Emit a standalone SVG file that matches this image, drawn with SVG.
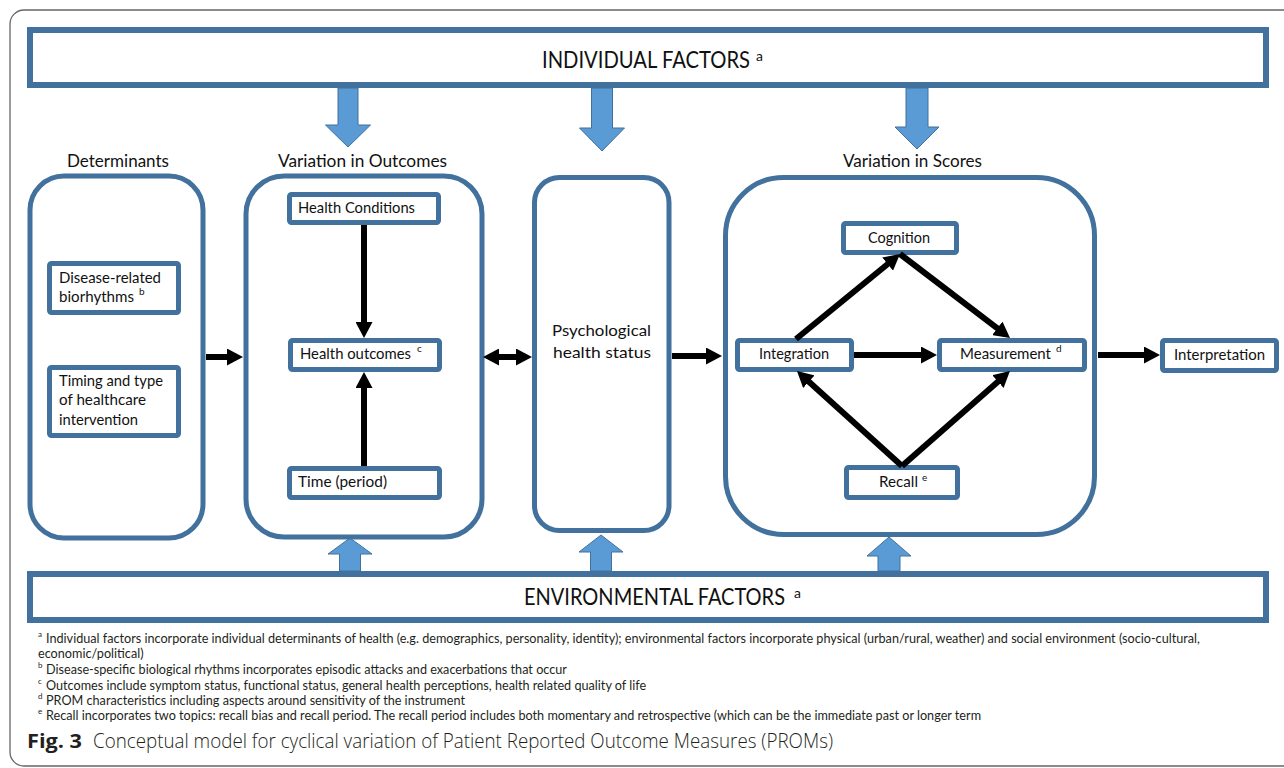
<svg xmlns="http://www.w3.org/2000/svg" width="1284" height="768" viewBox="0 0 1284 768">
<style>
.frame{fill:none;stroke:#666;stroke-width:1.3}
.ban{fill:#fff;stroke:#41719C;stroke-width:6}
.big{fill:#fff;stroke:#41719C;stroke-width:5}
.bx{fill:#fff;stroke:#41719C;stroke-width:5}
.blu{fill:#5B9BD5;stroke:#41719C;stroke-width:1}
.con{fill:none;stroke:#000;stroke-width:6}
text{font-family:Lato,"Liberation Sans",sans-serif;fill:#111}
.lbl{font-size:16px}
.hdr{font-size:18px}
.bt{font-size:24px}
.sup{font-size:10px}
.bsup{font-size:14px}
.fn{font-size:12.65px;fill:#231F20}
.fsup{font-size:8px;fill:#231F20}
.cap{font-family:"Open Sans","Liberation Sans",sans-serif;font-size:20px;font-weight:300;fill:#231F20}
.capb{font-family:"Open Sans","Liberation Sans",sans-serif;font-size:20px;font-weight:700;fill:#231F20}
</style>
<defs>
<marker id="ah" viewBox="0 0 16 17" markerWidth="16" markerHeight="17" refX="1" refY="8.5" orient="auto-start-reverse" markerUnits="userSpaceOnUse">
<path d="M0,0 L16,8.5 L0,17 z" fill="#000"/>
</marker>
</defs>
<rect class="frame" x="10" y="10" width="1300" height="756" rx="14"/>

<g id="individual-factors">
<rect class="ban" x="30" y="30" width="1236" height="55"/>
<text class="bt" x="542" y="68" textLength="208" lengthAdjust="spacingAndGlyphs">INDIVIDUAL FACTORS</text>
<text class="bsup" x="756" y="61">a</text>
</g>
<g id="environmental-factors">
<rect class="ban" x="30" y="574" width="1236" height="46"/>
<text class="bt" x="524" y="605" textLength="261" lengthAdjust="spacingAndGlyphs">ENVIRONMENTAL FACTORS</text>
<text class="bsup" x="794" y="598">a</text>
</g>

<g id="influence-arrows">
<polygon class="blu" points="338,88 358,88 358,125 370.5,125 348,147 325.5,125 338,125"/>
<polygon class="blu" points="591.5,88 612.5,88 612.5,128 624.5,128 602,151 579.5,128 591.5,128"/>
<polygon class="blu" points="906,88 928,88 928,127 939,127 917,149 895,127 906,127"/>
<polygon class="blu" points="339.5,571 360.5,571 360.5,554 372,554 350,538 328,554 339.5,554"/>
<polygon class="blu" points="590.5,571 611.5,571 611.5,552 623,552 601,535 579,552 590.5,552"/>
<polygon class="blu" points="878,571 900,571 900,556 911,556 889,537 867,556 878,556"/>
</g>

<g id="determinants">
<text class="hdr" x="67" y="167" textLength="102" lengthAdjust="spacingAndGlyphs">Determinants</text>
<rect class="big" x="30" y="176" width="173" height="362" rx="34"/>
</g>
<g id="disease-related">
<rect class="bx" x="49.5" y="263.5" width="129" height="49" rx="2"/>
<text class="lbl" x="59" y="283" textLength="102" lengthAdjust="spacingAndGlyphs">Disease-related</text>
<text class="lbl" x="59" y="302" textLength="75" lengthAdjust="spacingAndGlyphs">biorhythms</text>
<text class="sup" x="139" y="295">b</text>
</g>
<g id="timing">
<rect class="bx" x="49.5" y="367.5" width="129" height="68" rx="2"/>
<text class="lbl" x="59" y="386" textLength="104" lengthAdjust="spacingAndGlyphs">Timing and type</text>
<text class="lbl" x="59" y="405" textLength="87" lengthAdjust="spacingAndGlyphs">of healthcare</text>
<text class="lbl" x="59" y="425" textLength="79" lengthAdjust="spacingAndGlyphs">intervention</text>
</g>

<g id="variation-outcomes">
<text class="hdr" x="278" y="167" textLength="169" lengthAdjust="spacingAndGlyphs">Variation in Outcomes</text>
<rect class="big" x="246" y="176" width="236" height="361" rx="38"/>
</g>
<g id="health-conditions">
<rect class="bx" x="289.5" y="194.5" width="149" height="28" rx="2"/>
<text class="lbl" x="298" y="213" textLength="117" lengthAdjust="spacingAndGlyphs">Health Conditions</text>
</g>
<g id="health-outcomes">
<rect class="bx" x="290.5" y="340.5" width="149" height="29" rx="2"/>
<text class="lbl" x="300" y="359" textLength="111" lengthAdjust="spacingAndGlyphs">Health outcomes</text>
<text class="sup" x="417" y="352">c</text>
</g>
<g id="time-period">
<rect class="bx" x="289.5" y="468.5" width="150" height="29" rx="2"/>
<text class="lbl" x="298" y="487" textLength="89" lengthAdjust="spacingAndGlyphs">Time (period)</text>
</g>

<g id="psychological">
<rect class="big" x="534.5" y="177.5" width="134.5" height="353" rx="25"/>
<text class="lbl" x="552" y="336" textLength="99" lengthAdjust="spacingAndGlyphs">Psychological</text>
<text class="lbl" x="553" y="358" textLength="98" lengthAdjust="spacingAndGlyphs">health status</text>
</g>

<g id="variation-scores">
<text class="hdr" x="843" y="167" textLength="139" lengthAdjust="spacingAndGlyphs">Variation in Scores</text>
<rect class="big" x="725.5" y="177.5" width="369" height="357" rx="58"/>
</g>
<g id="cognition">
<rect class="bx" x="843.5" y="223.5" width="113" height="29" rx="2"/>
<text class="lbl" x="868" y="243" textLength="62" lengthAdjust="spacingAndGlyphs">Cognition</text>
</g>
<g id="integration">
<rect class="bx" x="737.5" y="340.5" width="114" height="29" rx="2"/>
<text class="lbl" x="759" y="359" textLength="70" lengthAdjust="spacingAndGlyphs">Integration</text>
</g>
<g id="measurement">
<rect class="bx" x="939.5" y="340.5" width="145" height="29" rx="2"/>
<text class="lbl" x="960" y="359" textLength="91" lengthAdjust="spacingAndGlyphs">Measurement</text>
<text class="sup" x="1056" y="352">d</text>
</g>
<g id="recall">
<rect class="bx" x="846.5" y="467.5" width="111" height="30" rx="2"/>
<text class="lbl" x="879" y="487" textLength="39" lengthAdjust="spacingAndGlyphs">Recall</text>
<text class="sup" x="922" y="481">e</text>
</g>
<g id="interpretation">
<rect class="bx" x="1162.5" y="340.5" width="114" height="30" rx="2"/>
<text class="lbl" x="1174" y="360" textLength="91" lengthAdjust="spacingAndGlyphs">Interpretation</text>
</g>

<g id="connectors" class="con" marker-end="url(#ah)">
<line x1="206" y1="357" x2="228" y2="357"/>
<line x1="364" y1="225" x2="364" y2="323"/>
<line x1="364" y1="466" x2="364" y2="387"/>
<line x1="498" y1="357" x2="517" y2="357" marker-start="url(#ah)"/>
<line x1="672" y1="356" x2="707" y2="356"/>
<line x1="796" y1="339" x2="888.4" y2="263.5"/>
<line x1="900" y1="254" x2="998.1" y2="328.9"/>
<line x1="854" y1="355" x2="922" y2="355"/>
<line x1="902" y1="466" x2="808.1" y2="381.1"/>
<line x1="902" y1="466" x2="998.7" y2="380.9"/>
<line x1="1098" y1="355" x2="1145" y2="355"/>
</g>

<g id="footnotes">
<text class="fsup" x="38" y="637">a</text>
<text class="fn" x="46" y="643">Individual factors incorporate individual determinants of health (e.g. demographics, personality, identity); environmental factors incorporate physical (urban/rural, weather) and social environment (socio-cultural,</text>
<text class="fn" x="38" y="658">economic/political)</text>
<text class="fsup" x="38" y="668">b</text>
<text class="fn" x="46" y="674">Disease-specific biological rhythms incorporates episodic attacks and exacerbations that occur</text>
<text class="fsup" x="38" y="684">c</text>
<text class="fn" x="46" y="690">Outcomes include symptom status, functional status, general health perceptions, health related quality of life</text>
<text class="fsup" x="38" y="699">d</text>
<text class="fn" x="46" y="705">PROM characteristics including aspects around sensitivity of the instrument</text>
<text class="fsup" x="38" y="714">e</text>
<text class="fn" x="46" y="720">Recall incorporates two topics: recall bias and recall period. The recall period includes both momentary and retrospective (which can be the immediate past or longer term</text>
<text class="capb" x="27" y="748" textLength="55" lengthAdjust="spacingAndGlyphs">Fig. 3</text>
<text class="cap" x="93" y="748" textLength="740" lengthAdjust="spacingAndGlyphs">Conceptual model for cyclical variation of Patient Reported Outcome Measures (PROMs)</text>
</g>
</svg>
